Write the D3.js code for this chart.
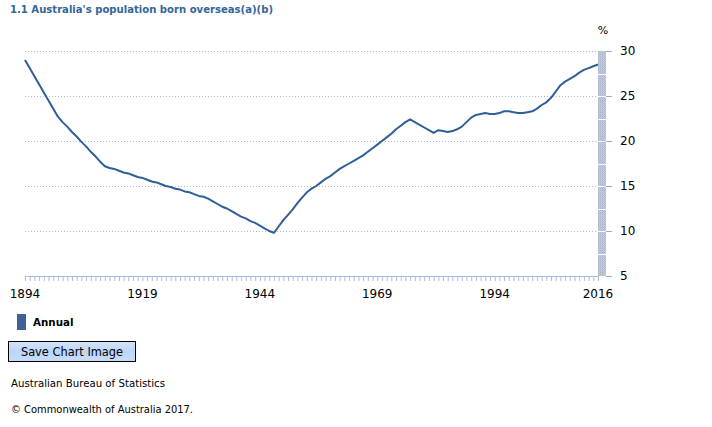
<!DOCTYPE html>
<html>
<head>
<meta charset="utf-8">
<script src="https://cdn.jsdelivr.net/npm/d3@7"></script>
<style>
  html, body { margin: 0; padding: 0; background: #fff; }
  svg { display: block; }
  text { font-family: "DejaVu Sans", Verdana, sans-serif; }
</style>
</head>
<body>
<svg id="chart" width="712" height="427"></svg>
<script>
const title = "1.1 Australia's population born overseas(a)(b)";
const startYear = 1894;
const endYear = 2016;
const values = [
  29.0, 28.1, 27.2, 26.3, 25.4, 24.5, 23.6, 22.7,            // 1894-1901
  22.1, 21.6, 21.0, 20.5, 19.9, 19.4, 18.8, 18.3, 17.7, 17.2, // 1902-1911
  17.0, 16.9, 16.7, 16.5, 16.4, 16.2, 16.0, 15.9, 15.7, 15.5, // 1912-1921
  15.4, 15.2, 15.0, 14.9, 14.7, 14.6,                         // 1922-1927
  14.4, 14.3, 14.1, 13.9, 13.8, 13.6,                         // 1928-1933
  13.3, 13.0, 12.7, 12.5, 12.2, 11.9, 11.6, 11.4, 11.1, 10.9, 10.6, 10.3, 10.0, 9.8, // 1934-1947
  10.5, 11.2, 11.8, 12.4, 13.1, 13.7, 14.3,                   // 1948-1954
  14.7, 15.0, 15.4, 15.8, 16.1, 16.5, 16.9,                   // 1955-1961
  17.2, 17.5, 17.8, 18.1, 18.4, 18.8, 19.2, 19.6, 20.0, 20.4, 20.8, 21.3, 21.7, 22.1, 22.4, // 1962-1976
  22.1, 21.8, 21.5, 21.2, 20.9, 21.2, 21.1, 21.0, 21.1, 21.3, // 1977-1986
  21.6, 22.1, 22.6, 22.9, 23.0, 23.1, 23.0, 23.0, 23.1, 23.3, // 1987-1996
  23.3, 23.2, 23.1, 23.1, 23.2, 23.3, 23.6, 24.0, 24.3, 24.8, // 1997-2006
  25.5, 26.2, 26.6, 26.9, 27.2, 27.6, 27.9, 28.1, 28.3, 28.5  // 2007-2016
];
const years = d3.range(startYear, endYear + 1);
const xTickLabels = [1894, 1919, 1944, 1969, 1994, 2016];
const yTicks = [5, 10, 15, 20, 25, 30];
const seriesName = "Annual";
const unitLabel = "%";
const sourceText = "Australian Bureau of Statistics";
const copyrightText = "\u00A9 Commonwealth of Australia 2017.";
const buttonText = "Save Chart Image";

(function () {
const svg = d3.select("#chart");
const pLeft = 25, pRight = 598, pTop = 51, pBottom = 276;

const x = d3.scaleLinear().domain([startYear, endYear]).range([pLeft, pRight]);
const y = d3.scaleLinear().domain([5, 30]).range([pBottom, pTop]);

const defs = svg.append("defs");
const pat = defs.append("pattern").attr("id", "dither").attr("width", 2).attr("height", 2)
  .attr("patternUnits", "userSpaceOnUse");
pat.append("rect").attr("width", 2).attr("height", 2).attr("fill", "#c3c9d6");
pat.append("rect").attr("width", 1).attr("height", 1).attr("fill", "#a8b5cf");
pat.append("rect").attr("x", 1).attr("y", 1).attr("width", 1).attr("height", 1).attr("fill", "#b9c1d1");

// Title
svg.append("text").attr("x", 10).attr("y", 13).attr("font-size", 10.6).attr("font-weight", "bold")
  .attr("fill", "#336699").attr("textLength", 263).attr("lengthAdjust", "spacingAndGlyphs").text(title);

// Gridlines
svg.append("g").selectAll("line").data(yTicks.filter(d => d > 5)).join("line")
  .attr("x1", pLeft).attr("x2", pRight)
  .attr("y1", d => Math.round(y(d)) + 0.5).attr("y2", d => Math.round(y(d)) + 0.5)
  .attr("stroke", "#a9bbe0").attr("stroke-width", 1).attr("stroke-dasharray", "1,2");

// Right gray bar
svg.append("rect").attr("x", pRight).attr("y", pTop).attr("width", 8).attr("height", pBottom - pTop)
  .attr("fill", "url(#dither)");
svg.append("g").selectAll("line").data(d3.range(7.5, 30, 2.5)).join("line")
  .attr("x1", pRight).attr("x2", pRight + 8)
  .attr("y1", d => Math.round(y(d)) + 0.5).attr("y2", d => Math.round(y(d)) + 0.5)
  .attr("stroke", "#fff").attr("stroke-width", 1);

// Y axis (right)
const yAxis = d3.axisRight(y).tickValues(yTicks).tickSize(6).tickPadding(8);
const gy = svg.append("g").attr("transform", `translate(${pRight + 8},0)`).call(yAxis);
gy.select(".domain").remove();
gy.selectAll(".tick line").attr("stroke", "#9aaac4");
gy.selectAll(".tick text").attr("font-size", 12).attr("fill", "#000")
  .attr("font-family", "DejaVu Sans, Verdana, sans-serif");

svg.append("text").attr("x", 603).attr("y", 34).attr("text-anchor", "middle")
  .attr("font-size", 11).attr("fill", "#000").text(unitLabel);

// X axis
const xAxis = d3.axisBottom(x).tickValues(years).tickSize(5).tickFormat("");
const gx = svg.append("g").attr("transform", `translate(0,${pBottom})`).call(xAxis);
gx.select(".domain").attr("stroke", "#a9bbe0").attr("d", `M${pLeft},0.5H${pRight}`);
gx.selectAll(".tick line").attr("stroke", "#a9bbe0");

svg.append("g").selectAll("text").data(xTickLabels).join("text")
  .attr("x", d => x(d)).attr("y", 298).attr("text-anchor", "middle")
  .attr("font-size", 12).attr("fill", "#000").text(d => d);

// Line
const line = d3.line().x((d, i) => x(years[i])).y(d => y(d));
svg.append("path").datum(values).attr("d", line)
  .attr("fill", "none").attr("stroke", "#2f5f98").attr("stroke-width", 2)
  .attr("stroke-linejoin", "round");

// Legend
svg.append("rect").attr("x", 17).attr("y", 314).attr("width", 9).attr("height", 16)
  .attr("fill", "#3a6495");
svg.append("text").attr("x", 33).attr("y", 326).attr("font-size", 10.3).attr("font-weight", "bold")
  .attr("fill", "#000").text(seriesName);

// Button
const btnGrad = defs.append("linearGradient").attr("id", "btn").attr("x1", 0).attr("y1", 0).attr("x2", 0).attr("y2", 1);
btnGrad.append("stop").attr("offset", 0).attr("stop-color", "#d2e4fb");
btnGrad.append("stop").attr("offset", 0.5).attr("stop-color", "#bcd6f7");
btnGrad.append("stop").attr("offset", 1).attr("stop-color", "#c8ddf8");
svg.append("rect").attr("x", 8.5).attr("y", 341.5).attr("width", 127).attr("height", 20)
  .attr("fill", "url(#btn)").attr("stroke", "#000").attr("stroke-width", 1);
svg.append("text").attr("x", 72).attr("y", 356).attr("text-anchor", "middle")
  .attr("font-size", 11.4).attr("fill", "#000").text(buttonText);

// Footer
svg.append("text").attr("x", 11).attr("y", 387).attr("font-size", 10.2).attr("fill", "#000").text(sourceText);
svg.append("text").attr("x", 11).attr("y", 413).attr("font-size", 10.2).attr("fill", "#000")
  .attr("textLength", 182).attr("lengthAdjust", "spacingAndGlyphs").text(copyrightText);
})();
</script>
</body>
</html>
